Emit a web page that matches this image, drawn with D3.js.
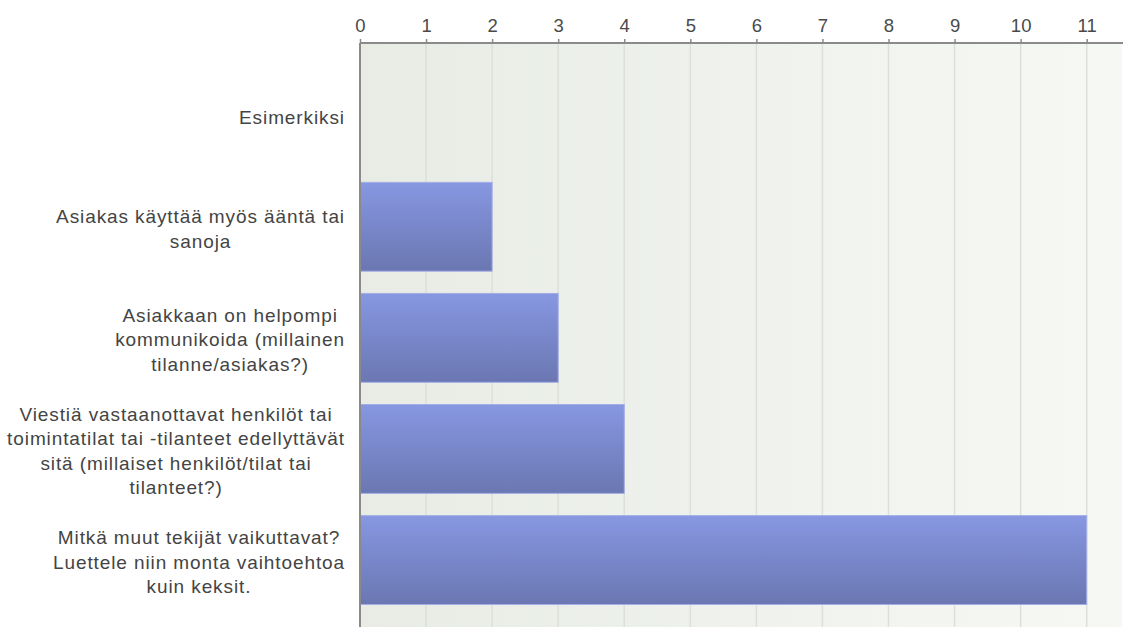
<!DOCTYPE html>
<html>
<head>
<meta charset="utf-8">
<script src="https://cdn.jsdelivr.net/npm/d3@7"></script>
<style>
  html, body { margin: 0; padding: 0; background: #ffffff; }
  svg { display: block; }
  text { font-family: "Liberation Sans", Arial, sans-serif; }
</style>
</head>
<body>
<svg id="chart" width="1123" height="627"></svg>
<script>
// Answer options (wrapped into lines) and how many respondents picked each
const categories = [
  ["Esimerkiksi"],
  ["Asiakas käyttää myös ääntä tai", "sanoja"],
  ["Asiakkaan on helpompi", "kommunikoida (millainen", "tilanne/asiakas?)"],
  ["Viestiä vastaanottavat henkilöt tai", "toimintatilat tai -tilanteet edellyttävät", "sitä (millaiset henkilöt/tilat tai", "tilanteet?)"],
  ["Mitkä muut tekijät vaikuttavat?", "Luettele niin monta vaihtoehtoa", "kuin keksit."]
];
const counts = [0, 2, 3, 4, 11];
const tickValues = [0, 1, 2, 3, 4, 5, 6, 7, 8, 9, 10, 11];

const W = 1123, H = 627;
const plot = { left: 360, top: 43, right: 1122, bottom: 633 };

const svg = d3.select("#chart");
const defs = svg.append("defs");

const bg = defs.append("linearGradient").attr("id", "bgGrad")
  .attr("x1", "0").attr("y1", "0").attr("x2", "1").attr("y2", "0");
bg.append("stop").attr("offset", "0").attr("stop-color", "#e8ece5");
bg.append("stop").attr("offset", "1").attr("stop-color", "#f6f8f4");

const barGrad = defs.append("linearGradient").attr("id", "barGrad")
  .attr("x1", "0").attr("y1", "0").attr("x2", "0").attr("y2", "1");
barGrad.append("stop").attr("offset", "0").attr("stop-color", "#8797e1");
barGrad.append("stop").attr("offset", "1").attr("stop-color", "#6a77b2");

const x = d3.scaleLinear().domain([0, 11]).range([plot.left, 1086.7]);
const y = d3.scaleBand()
  .domain(d3.range(categories.length))
  .range([plot.top, 632.7])
  .paddingInner(0.2)
  .paddingOuter(0.254);

// Plot background
svg.append("rect")
  .attr("x", plot.left).attr("y", plot.top)
  .attr("width", plot.right - plot.left).attr("height", plot.bottom - plot.top)
  .attr("fill", "url(#bgGrad)");

// Vertical gridlines
svg.append("g").selectAll("line")
  .data(tickValues.filter(d => d > 0))
  .join("line")
  .attr("x1", d => x(d)).attr("x2", d => x(d))
  .attr("y1", plot.top).attr("y2", plot.bottom)
  .attr("stroke", "#dcdfda").attr("stroke-width", 1.5);

// Bars
svg.append("g").selectAll("rect")
  .data(counts.map((v, i) => ({ v, i })).filter(d => d.v > 0))
  .join("rect")
  .attr("x", x(0))
  .attr("y", d => y(d.i))
  .attr("width", d => x(d.v) - x(0))
  .attr("height", y.bandwidth())
  .attr("fill", "url(#barGrad)")
  .attr("stroke", "#a4aee6")
  .attr("stroke-width", 1);

// Top axis
const axis = d3.axisTop(x).tickValues(tickValues).tickSize(4).tickSizeOuter(0).tickPadding(7);
const gAxis = svg.append("g").attr("transform", `translate(0,${plot.top})`).call(axis);
gAxis.select(".domain").attr("stroke", "#8a8a8a").attr("stroke-width", 2)
  .attr("d", `M${plot.left},0H${W}`);
gAxis.selectAll(".tick line").attr("stroke", "#8a8a8a").attr("stroke-width", 1.5);
gAxis.selectAll(".tick text")
  .attr("fill", "#4a4a4a").attr("font-size", 18.5)
  .attr("font-family", "'Liberation Sans', Arial, sans-serif");

// Left axis line
svg.append("line")
  .attr("x1", plot.left).attr("x2", plot.left)
  .attr("y1", plot.top).attr("y2", H)
  .attr("stroke", "#8a8a8a").attr("stroke-width", 2);

// Category labels: lines centred within a right-aligned block
const lineH = 24.5;
const labelRight = 345;
const labels = svg.append("g");
categories.forEach((lines, i) => {
  const t = labels.append("text")
    .attr("font-size", 19).attr("fill", "#444")
    .attr("letter-spacing", 0.9)
    .attr("text-anchor", "middle");
  const tspans = lines.map(l => t.append("tspan").text(l));
  const maxW = d3.max(tspans, s => s.node().getComputedTextLength());
  const cx = labelRight - maxW / 2;
  const cy = y(i) + y.bandwidth() / 2 + 2;
  const firstBase = cy - (lines.length - 1) * lineH / 2 + 6.5;
  tspans.forEach((s, k) => s.attr("x", cx).attr("y", firstBase + k * lineH));
});
</script>
</body>
</html>
